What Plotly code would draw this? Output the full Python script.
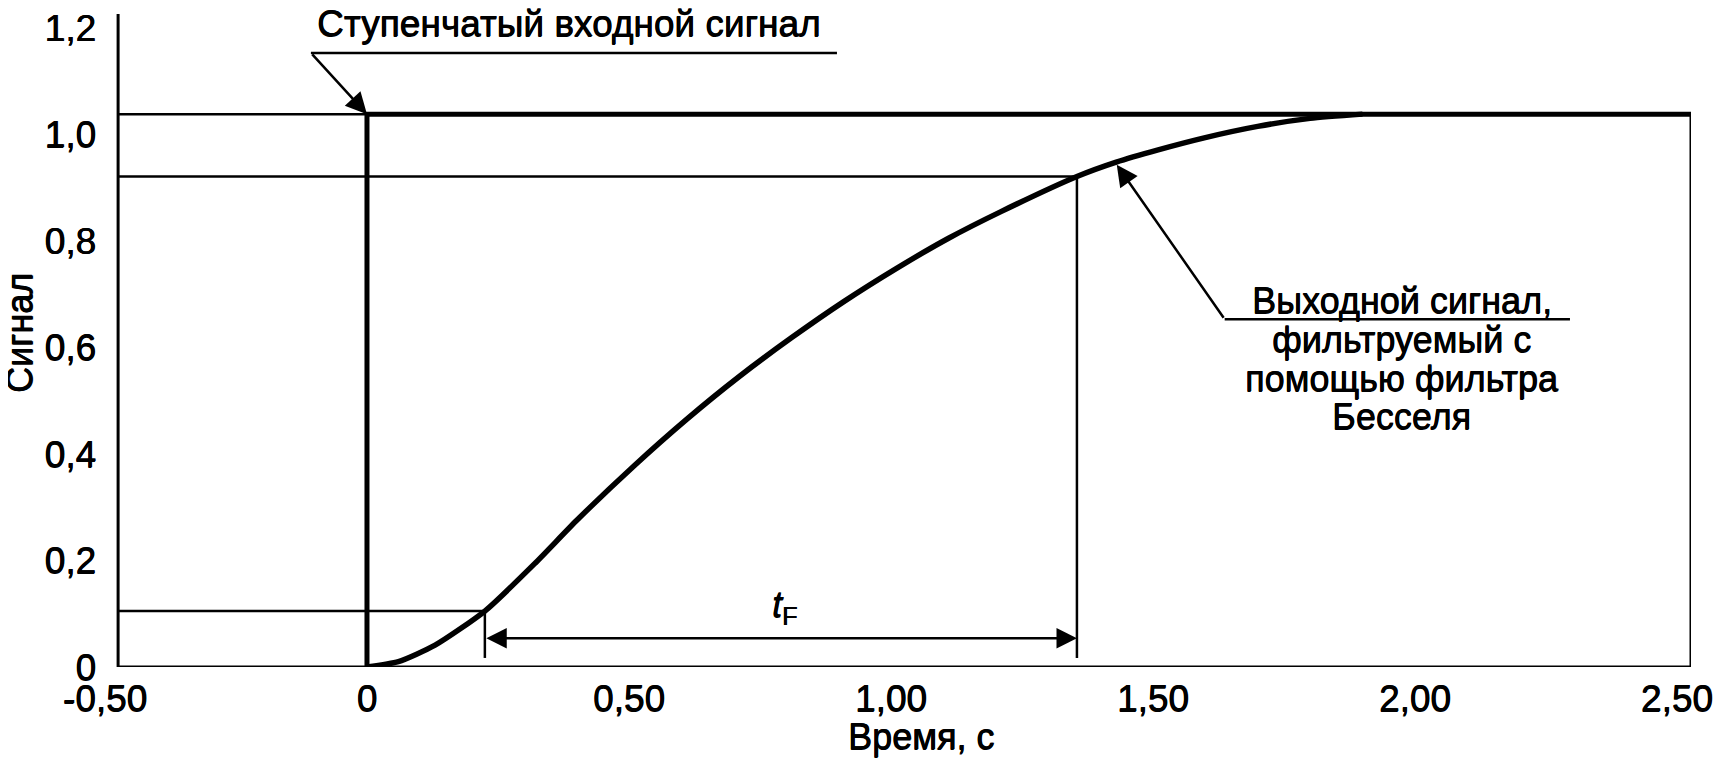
import plotly.graph_objects as go

# ---------------- data ----------------
# step input
STEP_T = [0.0, 0.0, 2.527]
STEP_Y = [0.0, 1.038, 1.038]

# Bessel-filtered output
OUT_T = [0.0, 0.06, 0.13, 0.225, 0.32, 0.40, 0.51, 0.61, 0.71, 0.81, 0.91,
         1.01, 1.11, 1.21, 1.355, 1.43, 1.51, 1.60, 1.70, 1.80, 1.90]
OUT_Y = [0.0, 0.010, 0.041, 0.105, 0.194, 0.275, 0.378, 0.465, 0.545, 0.618, 0.686,
         0.748, 0.805, 0.855, 0.921, 0.948, 0.971, 0.994, 1.015, 1.030, 1.038]

# reference levels / times
LEVEL_TOP = 1.038      # step level
LEVEL_HI = 0.921       # 90 % level
LEVEL_LO = 0.105       # 10 % level
T_LO = 0.225           # time of 10 %
T_HI = 1.355           # time of 90 %
ARROW_Y = 0.054        # height of the t_F dimension arrow
TICK_BOTTOM = 0.017    # lower end of the dimension verticals

X_RANGE = [-0.5, 2.527]
X_FRAME = -0.475       # where the drawn left frame line sits
Y_RANGE = [0.0, 1.226]

X_TICKS = [-0.5, 0.0, 0.5, 1.0, 1.5, 2.0, 2.5]
X_TICK_TEXT = ["-0,50", "0", "0,50", "1,00", "1,50", "2,00", "2,50"]
Y_TICKS = [0.0, 0.2, 0.4, 0.6, 0.8, 1.0, 1.2]
Y_TICK_TEXT = ["0", "0,2", "0,4", "0,6", "0,8", "1,0", "1,2"]

# label leaders
STEP_LABEL = "Ступенчатый входной сигнал"
STEP_LABEL_POS = (0.384, 1.209)
STEP_LEADER = [(-0.107, 1.153), (0.897, 1.153)]   # underline
STEP_TIP = (0.0, 1.038)

OUT_LABEL_LINES = ["Выходной сигнал,", "фильтруемый с", "помощью фильтра", "Бесселя"]
OUT_LABEL_X = 1.975
OUT_LABEL_Y = [0.6875, 0.615, 0.542, 0.470]
OUT_LEADER = [(1.637, 0.653), (2.296, 0.653)]
OUT_TIP = (1.431, 0.943)

TF_POS = (0.796, 0.112)

FONT = "Liberation Sans, Arial, sans-serif"
FS = 36
FS_TICK = 37
BLACK = "#000000"
HEAVY = "0.6px 0 0 #000, 0 0.6px 0 #000"


def f(size, **kw):
    return dict(family=FONT, size=size, color=BLACK, shadow=HEAVY, **kw)


fig = go.Figure()

fig.add_trace(go.Scatter(x=OUT_T, y=OUT_Y, mode="lines",
                         line=dict(color=BLACK, width=5.5, shape="spline", smoothing=0.6),
                         hoverinfo="skip", showlegend=False))
fig.add_trace(go.Scatter(x=STEP_T, y=STEP_Y, mode="lines",
                         line=dict(color=BLACK, width=5),
                         hoverinfo="skip", showlegend=False))

shapes = []
def seg(x0, y0, x1, y1, w=2.5, layer="below"):
    shapes.append(dict(type="line", xref="x", yref="y", x0=x0, y0=y0, x1=x1, y1=y1,
                       line=dict(color=BLACK, width=w), layer=layer))

# frame: left axis, bottom axis, right border
seg(X_FRAME, 0.0, X_FRAME, Y_RANGE[1], w=3, layer="above")
seg(X_FRAME, 0.0, X_RANGE[1], 0.0, w=3, layer="above")
seg(X_RANGE[1], 0.0, X_RANGE[1], LEVEL_TOP, w=3)
# guide lines
seg(X_FRAME, LEVEL_TOP, 0.0, LEVEL_TOP)
seg(X_FRAME, LEVEL_HI, T_HI, LEVEL_HI)
seg(X_FRAME, LEVEL_LO, T_LO, LEVEL_LO)
seg(T_LO, TICK_BOTTOM, T_LO, LEVEL_LO)
seg(T_HI, TICK_BOTTOM, T_HI, LEVEL_HI)
# label underlines
seg(STEP_LEADER[0][0], STEP_LEADER[0][1], STEP_LEADER[1][0], STEP_LEADER[1][1])
seg(OUT_LEADER[0][0], OUT_LEADER[0][1], OUT_LEADER[1][0], OUT_LEADER[1][1])

annotations = []
# leader arrows
annotations.append(dict(x=STEP_TIP[0], y=STEP_TIP[1], ax=STEP_LEADER[0][0], ay=STEP_LEADER[0][1],
                        xref="x", yref="y", axref="x", ayref="y", text="", showarrow=True,
                        arrowhead=2, arrowsize=1.7, arrowwidth=2.5, arrowcolor=BLACK))
annotations.append(dict(x=OUT_TIP[0], y=OUT_TIP[1], ax=OUT_LEADER[0][0], ay=OUT_LEADER[0][1],
                        xref="x", yref="y", axref="x", ayref="y", text="", showarrow=True,
                        arrowhead=2, arrowsize=1.7, arrowwidth=2.5, arrowcolor=BLACK))
# t_F dimension arrow
annotations.append(dict(x=T_HI, y=ARROW_Y, ax=T_LO, ay=ARROW_Y,
                        xref="x", yref="y", axref="x", ayref="y", text="", showarrow=True,
                        arrowhead=2, startarrowhead=2, arrowside="end+start",
                        arrowsize=1.7, startarrowsize=1.7, arrowwidth=2.4, arrowcolor=BLACK))
annotations.append(dict(x=TF_POS[0], y=TF_POS[1], xref="x", yref="y", showarrow=False,
                        text="<i>t</i><sub>F</sub>", font=f(FS)))
# labels
annotations.append(dict(x=STEP_LABEL_POS[0], y=STEP_LABEL_POS[1], xref="x", yref="y",
                        showarrow=False, text=STEP_LABEL, font=f(FS + 1)))
for line_text, yy in zip(OUT_LABEL_LINES, OUT_LABEL_Y):
    annotations.append(dict(x=OUT_LABEL_X, y=yy, xref="x", yref="y", showarrow=False,
                            text=line_text, font=f(FS)))
# axis titles
annotations.append(dict(x=1.057, y=0, xref="x", yref="paper", yanchor="middle", yshift=-69,
                        showarrow=False, text="Время, с", font=f(FS)))
annotations.append(dict(x=0, y=0.627, xref="paper", yref="y", xanchor="center", yanchor="middle",
                        xshift=-86, textangle=-90, showarrow=False, text="Сигнал", font=f(FS)))

fig.update_layout(
    width=1719, height=752,
    margin=dict(l=97, r=36, t=0, b=93),
    paper_bgcolor="white", plot_bgcolor="white",
    shapes=shapes, annotations=annotations,
    showlegend=False,
    font=dict(family=FONT, size=FS, color=BLACK),
)
fig.update_xaxes(range=X_RANGE, tickvals=X_TICKS, ticktext=X_TICK_TEXT,
                 showgrid=False, zeroline=False, showline=False,
                 ticks="", ticklabelstandoff=6, ticklabeloverflow="allow",
                 tickfont=f(FS_TICK))
fig.update_yaxes(range=Y_RANGE, tickvals=Y_TICKS, ticktext=Y_TICK_TEXT,
                 showgrid=False, zeroline=False, showline=False,
                 ticks="", ticklabelstandoff=8, ticklabeloverflow="allow",
                 tickfont=f(FS_TICK))

fig.write_html("out.html")
